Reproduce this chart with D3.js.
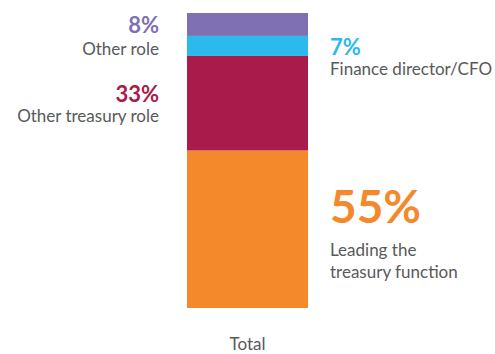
<!DOCTYPE html>
<html>
<head>
<meta charset="utf-8">
<script src="https://cdn.jsdelivr.net/npm/d3@7"></script>
<style>
  html, body { margin: 0; padding: 0; background: #fff; }
  svg { display: block; }
  text { font-family: "Lato", "Open Sans", sans-serif; }
</style>
</head>
<body>
<svg id="chart" width="495" height="354"></svg>
<script>
// Role breakdown, stacked bottom to top
const categories = ["Total"];
const roles = ["Leading the treasury function", "Other treasury role", "Finance director/CFO", "Other role"];
const values = [55, 33, 7, 8];
const colors = ["#f4892c", "#a81b4a", "#2cb9ec", "#7e70b3"];

const svg = d3.select("#chart");

const x = d3.scaleBand().domain(categories).range([187, 308]).padding(0);
const total = d3.sum(values);
const y = d3.scaleLinear().domain([0, total]).range([308, 13]);

// cumulative stacking
let acc = 0;
const segs = values.map((v, i) => {
  const s = { role: roles[i], value: v, y0: acc, y1: acc + v, color: colors[i] };
  acc += v;
  return s;
});

svg.selectAll("rect.seg")
  .data(segs)
  .join("rect")
  .attr("class", "seg")
  .attr("x", x("Total"))
  .attr("width", x.bandwidth())
  .attr("y", d => y(d.y1))
  .attr("height", d => y(d.y0) - y(d.y1))
  .attr("fill", d => d.color);

// category axis label
svg.append("text")
  .attr("x", x("Total") + x.bandwidth() / 2)
  .attr("y", 350)
  .attr("text-anchor", "middle")
  .attr("font-size", 17)
  .attr("fill", "#58595b")
  .text(categories[0]);

// annotation placement for each segment
const labelSpec = [
  { side: "right", pctSize: 46, pctY: 223, lines: ["Leading the", "treasury function"], lineY: 256, lineGap: 22 },
  { side: "left", pctSize: 22, pctY: 102, lines: ["Other treasury role"], lineY: 122, lineGap: 20 },
  { side: "right", pctSize: 22, pctY: 55, lines: ["Finance director/CFO"], lineY: 75, lineGap: 20 },
  { side: "left", pctSize: 22, pctY: 33, lines: ["Other role"], lineY: 55, lineGap: 20 }
];

segs.forEach((d, i) => {
  const spec = labelSpec[i];
  const lx = spec.side === "left" ? 159 : 330;
  const anchor = spec.side === "left" ? "end" : "start";
  svg.append("text")
    .attr("x", lx)
    .attr("y", spec.pctY)
    .attr("text-anchor", anchor)
    .attr("font-size", spec.pctSize)
    .attr("font-weight", 700)
    .attr("fill", d.color)
    .text(d.value + "%");
  spec.lines.forEach((line, j) => {
    svg.append("text")
      .attr("x", lx)
      .attr("y", spec.lineY + j * spec.lineGap)
      .attr("text-anchor", anchor)
      .attr("font-size", 17)
      .attr("fill", "#58595b")
      .text(line);
  });
});
</script>
</body>
</html>
